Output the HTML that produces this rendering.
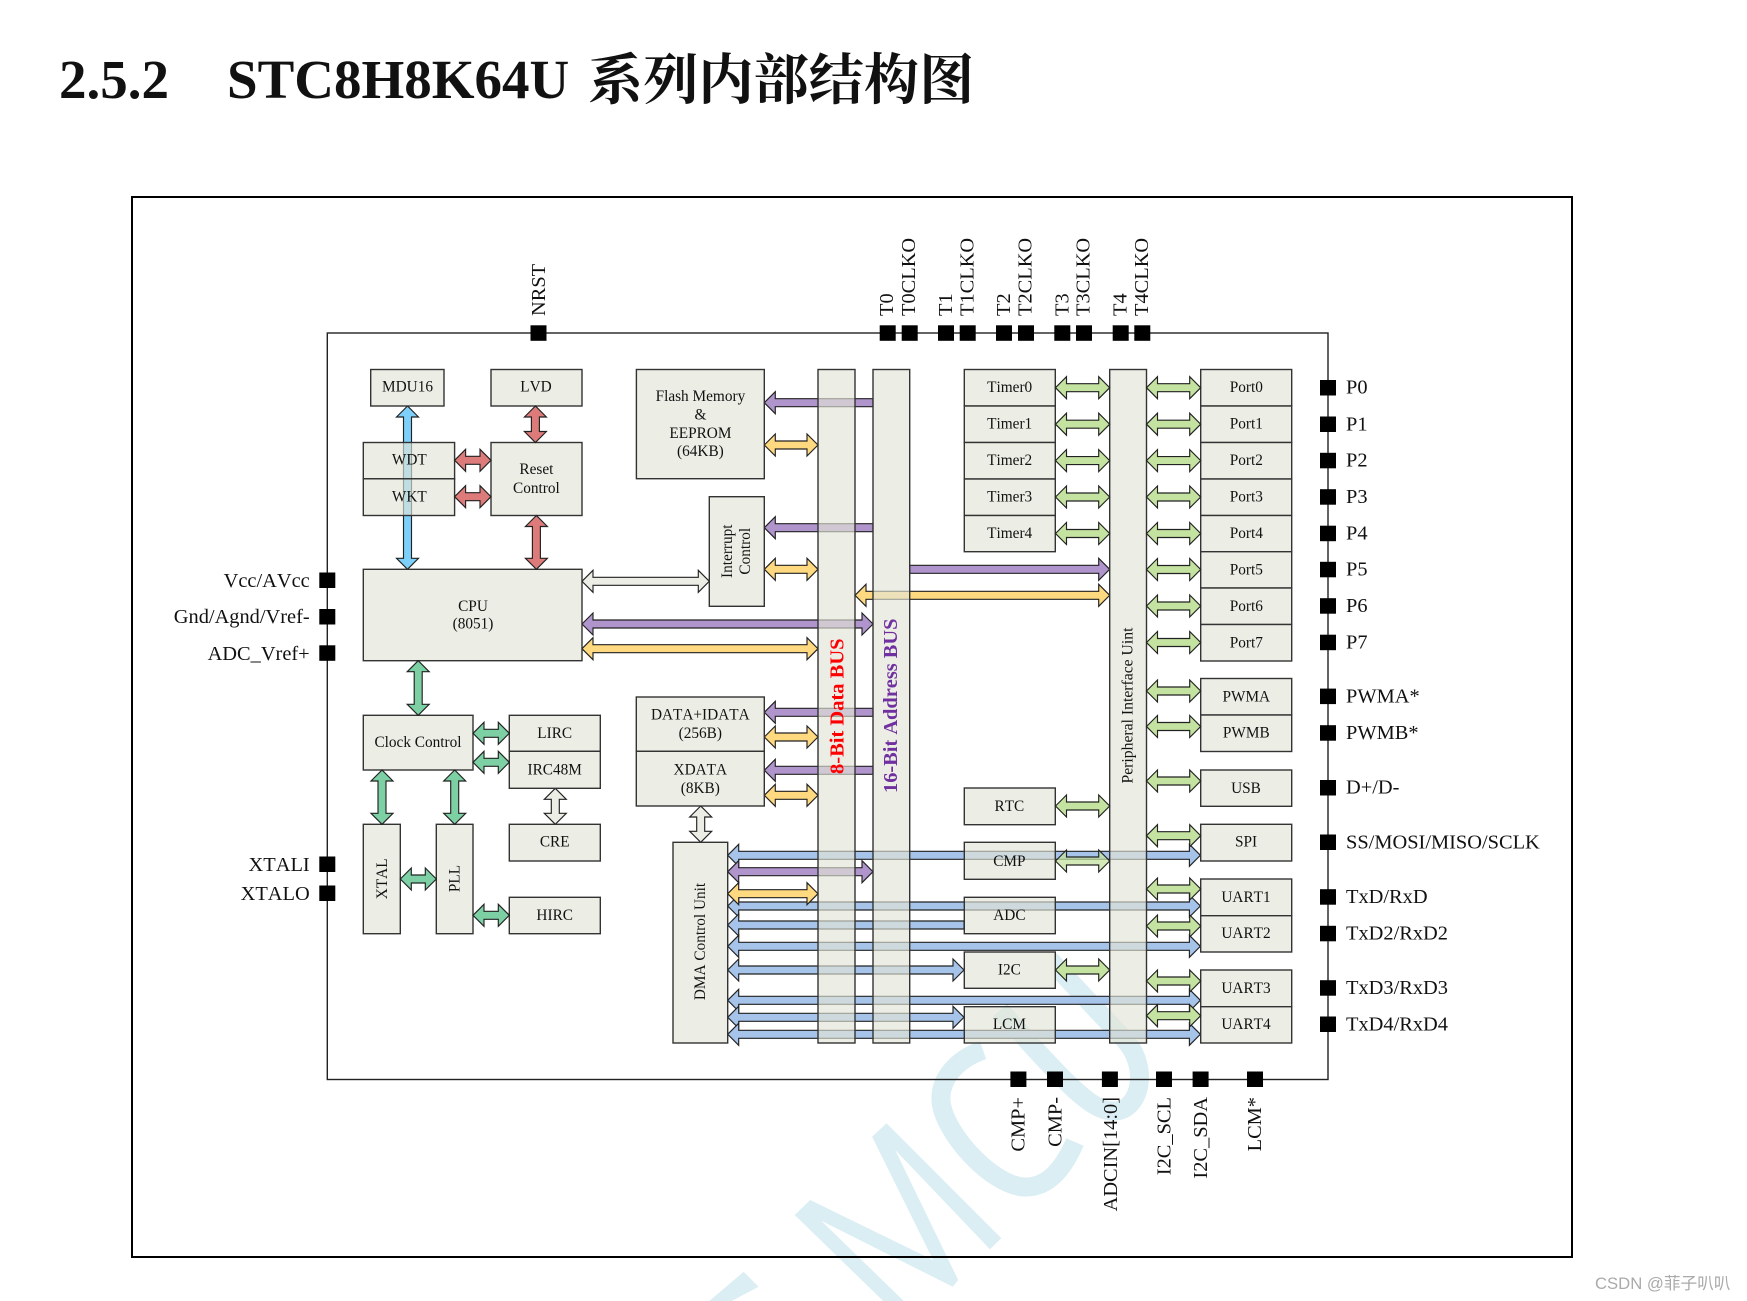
<!DOCTYPE html>
<html>
<head>
<meta charset="utf-8">
<title>STC8H8K64U</title>
<style>
html,body{margin:0;padding:0;background:#fff;width:1747px;height:1301px;overflow:hidden}
svg{display:block}
text{font-family:"Liberation Serif","Noto Serif CJK SC",serif;fill:#111;font-kerning:none}
.l{font-size:15.3px;text-anchor:middle}
.p{font-size:20.4px}
.e{text-anchor:end}
.box rect{fill:#eceee5;stroke:#333;stroke-width:1.4}
.tb rect{fill:#e2e5d7;fill-opacity:.65;stroke:#333;stroke-width:1.4}
.a path{stroke:#222;stroke-width:1.15;stroke-linejoin:miter}
.sq rect{fill:#000}
</style>
</head>
<body>
<svg width="1747" height="1301" viewBox="0 0 1747 1301" xmlns="http://www.w3.org/2000/svg">
<rect width="1747" height="1301" fill="#fff"/>

<!-- watermark -->
<g fill="#daeef4">
<polygon points="810.2,1200 933.1,1260 872.1,1136.7 886.6,1123.3 1001.3,1238.3 989.9,1249.3 895.2,1150 958.2,1280 952.7,1286.7 821.2,1220.7 903.8,1301 883.2,1301 794.7,1215"/>
<polygon points="743.7,1271.7 758.5,1286.7 731.7,1301 709.3,1301"/>
</g>
<g fill="none" stroke="#daeef4" stroke-width="19">
<path d="M983 1050 C955 1060 940 1080 941 1100 C942 1130 990 1185 1024 1187 C1050 1188 1065 1165 1075 1142"/>
<path d="M1050 960 L1125 1040 C1150 1068 1140 1110 1115 1111 C1095 1112 1075 1095 1000 1010"/>
</g>

<!-- title -->
<text x="59" y="98" style="font-size:55px;font-weight:700">2.5.2</text>
<text x="227" y="98" style="font-size:55px;font-weight:700">STC8H8K64U</text>
<text x="588" y="99" style="font-size:55.2px;font-weight:700;font-family:'Noto Serif CJK SC',serif">系列内部结构图</text>

<!-- frames -->
<rect x="132" y="197" width="1440" height="1060" fill="none" stroke="#000" stroke-width="2"/>
<rect x="327.3" y="333" width="1000.7" height="746.5" fill="none" stroke="#222" stroke-width="1.4"/>

<!-- blue arrows under the boxes -->
<g class="a" fill="#a6c3e9">
<path d="M727.7 855.3 l11 -11 v7 H1189.4 v-7 l11 11 l-11 11 v-7 H738.7 v7 z"/>
<path d="M727.7 906 l11 -11 v7 H1189.4 v-7 l11 11 l-11 11 v-7 H738.7 v7 z"/>
<path d="M727.7 925 l11 -11 v7 H964 v8 H738.7 v7 z"/>
<path d="M727.7 946.3 l11 -11 v7 H1189.4 v-7 l11 11 l-11 11 v-7 H738.7 v7 z"/>
<path d="M727.7 970 l11 -11 v7 H953 v-7 l11 11 l-11 11 v-7 H738.7 v7 z"/>
<path d="M727.7 1000.3 l11 -11 v7 H1189.4 v-7 l11 11 l-11 11 v-7 H738.7 v7 z"/>
<path d="M727.7 1017.3 l11 -11 v7 H953 v-7 l11 11 l-11 11 v-7 H738.7 v7 z"/>
<path d="M727.7 1034.3 l11 -11 v7 H1189.4 v-7 l11 11 l-11 11 v-7 H738.7 v7 z"/>
</g>

<!-- purple arrows -->
<g class="a" fill="#b094cc">
<path d="M764.3 402.7 l11 -11 v7 H873 v8 H775.3 v7 z"/>
<path d="M764.3 527.7 l11 -11 v7 H873 v8 H775.3 v7 z"/>
<path d="M764.3 712.3 l11 -11 v7 H873 v8 H775.3 v7 z"/>
<path d="M764.3 770.3 l11 -11 v7 H873 v8 H775.3 v7 z"/>
<path d="M582 624 l11 -11 v7 H862 v-7 l11 11 l-11 11 v-7 H593 v7 z"/>
<path d="M727.7 871.7 l11 -11 v7 H862 v-7 l11 11 l-11 11 v-7 H738.7 v7 z"/>
<path d="M909.7 565.3 H1098.7 v-7 l11 11 l-11 11 v-7 H909.7 z"/>
</g>

<!-- yellow arrows -->
<g class="a" fill="#ffd97f">
<path d="M764.3 445 l11 -11 v7 H807 v-7 l11 11 l-11 11 v-7 H775.3 v7 z"/>
<path d="M764.3 569.3 l11 -11 v7 H807 v-7 l11 11 l-11 11 v-7 H775.3 v7 z"/>
<path d="M764.3 737 l11 -11 v7 H807 v-7 l11 11 l-11 11 v-7 H775.3 v7 z"/>
<path d="M764.3 795.3 l11 -11 v7 H807 v-7 l11 11 l-11 11 v-7 H775.3 v7 z"/>
<path d="M582 648.7 l11 -11 v7 H807 v-7 l11 11 l-11 11 v-7 H593 v7 z"/>
<path d="M727.7 893.7 l11 -11 v7 H807 v-7 l11 11 l-11 11 v-7 H738.7 v7 z"/>
<path d="M855 595.3 l11 -11 v7 H1098.7 v-7 l11 11 l-11 11 v-7 H866 v7 z"/>
</g>

<!-- light arrows -->
<g class="a" fill="#eceee5">
<path d="M582 581.3 l11 -11 v7 H698.3 v-7 l11 11 l-11 11 v-7 H593 v7 z"/>
<path d="M555.3 788.3 l-11 11 h7 v14 h-7 l11 11 l11 -11 h-7 v-14 h7 z"/>
<path d="M700.7 806 l-11 11 h7 v14.3 h-7 l11 11 l11 -11 h-7 v-14.3 h7 z"/>
</g>

<!-- sky blue arrow -->
<g class="a" fill="#7dd0fa">
<path d="M407.5 406 l-11 11 h7 v141.3 h-7 l11 11 l11 -11 h-7 v-141.3 h7 z"/>
</g>

<!-- boxes -->
<g class="box">
<rect x="370.7" y="369.5" width="73.3" height="36.5"/>
<rect x="491" y="369.5" width="91" height="36.5"/>
<rect x="491" y="442.5" width="91" height="73"/>
<rect x="363.3" y="569.3" width="218.7" height="91.4"/>
<rect x="636.4" y="369.5" width="127.9" height="109.2"/>
<rect x="709.3" y="496.7" width="55" height="109.6"/>
<rect x="363.3" y="715.3" width="109.7" height="54.7"/>
<rect x="509.3" y="715.3" width="91" height="36"/>
<rect x="509.3" y="751.3" width="91" height="37"/>
<rect x="509.3" y="824.3" width="91" height="36.7"/>
<rect x="509.3" y="897.3" width="91" height="36.4"/>
<rect x="363.3" y="824.3" width="37" height="109.4"/>
<rect x="436.3" y="824.3" width="36.7" height="109.4"/>
<rect x="636.3" y="697" width="128" height="54.3"/>
<rect x="636.3" y="751.3" width="128" height="54.7"/>
<rect x="673" y="842.3" width="54.7" height="200.7"/>
<rect x="964.3" y="369.5" width="91" height="36.5"/>
<rect x="964.3" y="406" width="91" height="36.5"/>
<rect x="964.3" y="442.5" width="91" height="36.5"/>
<rect x="964.3" y="479" width="91" height="36.5"/>
<rect x="964.3" y="515.5" width="91" height="36.2"/>
<rect x="964.3" y="788" width="91" height="36.7"/>
<rect x="964.3" y="952" width="91" height="36.3"/>
<rect x="1200.7" y="369.5" width="91" height="36.5"/>
<rect x="1200.7" y="406" width="91" height="36.5"/>
<rect x="1200.7" y="442.5" width="91" height="36.5"/>
<rect x="1200.7" y="479" width="91" height="36.5"/>
<rect x="1200.7" y="515.5" width="91" height="36.2"/>
<rect x="1200.7" y="551.7" width="91" height="36.3"/>
<rect x="1200.7" y="588" width="91" height="36.5"/>
<rect x="1200.7" y="624.5" width="91" height="36.5"/>
<rect x="1200.7" y="678.5" width="91" height="36.5"/>
<rect x="1200.7" y="715" width="91" height="36.5"/>
<rect x="1200.7" y="770" width="91" height="36.3"/>
<rect x="1200.7" y="824.3" width="91" height="36.7"/>
<rect x="1200.7" y="879" width="91" height="36.7"/>
<rect x="1200.7" y="915.7" width="91" height="36.3"/>
<rect x="1200.7" y="970" width="91" height="36.7"/>
<rect x="1200.7" y="1006.7" width="91" height="36.3"/>
</g>

<!-- see-through boxes -->
<g class="tb">
<rect x="363.3" y="442.5" width="91.3" height="36.3"/>
<rect x="363.3" y="478.8" width="91.3" height="36.7"/>
<rect x="818" y="369.5" width="37" height="673.5"/>
<rect x="873" y="369.5" width="36.7" height="673.5"/>
<rect x="1109.7" y="369.5" width="36.8" height="673.5"/>
<rect x="964.3" y="842.3" width="91" height="37"/>
<rect x="964.3" y="897.3" width="91" height="36.4"/>
<rect x="964.3" y="1006.7" width="91" height="36.3"/>
</g>

<!-- red arrows -->
<g class="a" fill="#dd7b7b">
<path d="M535.4 406 l-11 11 h7 v14.5 h-7 l11 11 l11 -11 h-7 v-14.5 h7 z"/>
<path d="M536.4 515.5 l-11 11 h7 v31.8 h-7 l11 11 l11 -11 h-7 v-31.8 h7 z"/>
<path d="M454.6 460.3 l11 -11 v7 H480 v-7 l11 11 l-11 11 v-7 H465.6 v7 z"/>
<path d="M454.6 496.7 l11 -11 v7 H480 v-7 l11 11 l-11 11 v-7 H465.6 v7 z"/>
</g>

<!-- mint arrows -->
<g class="a" fill="#7dd0a4">
<path d="M418.2 660.7 l-11 11 h7 v32.6 h-7 l11 11 l11 -11 h-7 v-32.6 h7 z"/>
<path d="M382 770 l-11 11 h7 v32.3 h-7 l11 11 l11 -11 h-7 v-32.3 h7 z"/>
<path d="M454.7 770 l-11 11 h7 v32.3 h-7 l11 11 l11 -11 h-7 v-32.3 h7 z"/>
<path d="M473 733.3 l11 -11 v7 H498.3 v-7 l11 11 l-11 11 v-7 H484 v7 z"/>
<path d="M473 762.3 l11 -11 v7 H498.3 v-7 l11 11 l-11 11 v-7 H484 v7 z"/>
<path d="M400.3 879 l11 -11 v7 H425.3 v-7 l11 11 l-11 11 v-7 H411.3 v7 z"/>
<path d="M473 915.3 l11 -11 v7 H498.3 v-7 l11 11 l-11 11 v-7 H484 v7 z"/>
</g>

<!-- green arrows -->
<g class="a" fill="#c4e3a0">
<path d="M1055.5 387.7 l11 -11 v7 H1098.7 v-7 l11 11 l-11 11 v-7 H1066.5 v7 z"/>
<path d="M1055.5 424.2 l11 -11 v7 H1098.7 v-7 l11 11 l-11 11 v-7 H1066.5 v7 z"/>
<path d="M1055.5 460.6 l11 -11 v7 H1098.7 v-7 l11 11 l-11 11 v-7 H1066.5 v7 z"/>
<path d="M1055.5 497 l11 -11 v7 H1098.7 v-7 l11 11 l-11 11 v-7 H1066.5 v7 z"/>
<path d="M1055.5 533.5 l11 -11 v7 H1098.7 v-7 l11 11 l-11 11 v-7 H1066.5 v7 z"/>
<path d="M1055.5 806 l11 -11 v7 H1098.7 v-7 l11 11 l-11 11 v-7 H1066.5 v7 z"/>
<path d="M1055.5 861 l11 -11 v7 H1098.7 v-7 l11 11 l-11 11 v-7 H1066.5 v7 z" fill-opacity=".75"/>
<path d="M1055.5 970 l11 -11 v7 H1098.7 v-7 l11 11 l-11 11 v-7 H1066.5 v7 z"/>
<path d="M1146.5 387.7 l11 -11 v7 H1189.7 v-7 l11 11 l-11 11 v-7 H1157.5 v7 z"/>
<path d="M1146.5 424.2 l11 -11 v7 H1189.7 v-7 l11 11 l-11 11 v-7 H1157.5 v7 z"/>
<path d="M1146.5 460.6 l11 -11 v7 H1189.7 v-7 l11 11 l-11 11 v-7 H1157.5 v7 z"/>
<path d="M1146.5 497 l11 -11 v7 H1189.7 v-7 l11 11 l-11 11 v-7 H1157.5 v7 z"/>
<path d="M1146.5 533.5 l11 -11 v7 H1189.7 v-7 l11 11 l-11 11 v-7 H1157.5 v7 z"/>
<path d="M1146.5 569.5 l11 -11 v7 H1189.7 v-7 l11 11 l-11 11 v-7 H1157.5 v7 z"/>
<path d="M1146.5 606 l11 -11 v7 H1189.7 v-7 l11 11 l-11 11 v-7 H1157.5 v7 z"/>
<path d="M1146.5 642.5 l11 -11 v7 H1189.7 v-7 l11 11 l-11 11 v-7 H1157.5 v7 z"/>
<path d="M1146.5 691 l11 -11 v7 H1189.7 v-7 l11 11 l-11 11 v-7 H1157.5 v7 z"/>
<path d="M1146.5 726.5 l11 -11 v7 H1189.7 v-7 l11 11 l-11 11 v-7 H1157.5 v7 z"/>
<path d="M1146.5 781 l11 -11 v7 H1189.7 v-7 l11 11 l-11 11 v-7 H1157.5 v7 z"/>
<path d="M1146.5 835.7 l11 -11 v7 H1189.7 v-7 l11 11 l-11 11 v-7 H1157.5 v7 z"/>
<path d="M1146.5 889 l11 -11 v7 H1189.7 v-7 l11 11 l-11 11 v-7 H1157.5 v7 z"/>
<path d="M1146.5 926 l11 -11 v7 H1189.7 v-7 l11 11 l-11 11 v-7 H1157.5 v7 z"/>
<path d="M1146.5 981 l11 -11 v7 H1189.7 v-7 l11 11 l-11 11 v-7 H1157.5 v7 z"/>
<path d="M1146.5 1015.7 l11 -11 v7 H1189.7 v-7 l11 11 l-11 11 v-7 H1157.5 v7 z"/>
</g>

<!-- pins -->
<g class="sq">
<rect x="530.5" y="325.3" width="16" height="15.5"/>
<rect x="879.7" y="325.3" width="16" height="15.5"/>
<rect x="901.7" y="325.3" width="16" height="15.5"/>
<rect x="938" y="325.3" width="16" height="15.5"/>
<rect x="959.7" y="325.3" width="16" height="15.5"/>
<rect x="996" y="325.3" width="16" height="15.5"/>
<rect x="1018" y="325.3" width="16" height="15.5"/>
<rect x="1054.3" y="325.3" width="16" height="15.5"/>
<rect x="1076" y="325.3" width="16" height="15.5"/>
<rect x="1112.7" y="325.3" width="16" height="15.5"/>
<rect x="1134.3" y="325.3" width="16" height="15.5"/>
<rect x="319.3" y="572.5" width="16" height="15.5"/>
<rect x="319.3" y="609" width="16" height="15.5"/>
<rect x="319.3" y="645.3" width="16" height="15.5"/>
<rect x="319.3" y="856.5" width="16" height="15.5"/>
<rect x="319.3" y="885.5" width="16" height="15.5"/>
<rect x="1320" y="380" width="16" height="15.5"/>
<rect x="1320" y="416.5" width="16" height="15.5"/>
<rect x="1320" y="452.8" width="16" height="15.5"/>
<rect x="1320" y="489.2" width="16" height="15.5"/>
<rect x="1320" y="525.7" width="16" height="15.5"/>
<rect x="1320" y="561.8" width="16" height="15.5"/>
<rect x="1320" y="598.2" width="16" height="15.5"/>
<rect x="1320" y="634.7" width="16" height="15.5"/>
<rect x="1320" y="688.6" width="16" height="15.5"/>
<rect x="1320" y="725.2" width="16" height="15.5"/>
<rect x="1320" y="780" width="16" height="15.5"/>
<rect x="1320" y="834.5" width="16" height="15.5"/>
<rect x="1320" y="889.2" width="16" height="15.5"/>
<rect x="1320" y="925.8" width="16" height="15.5"/>
<rect x="1320" y="980.2" width="16" height="15.5"/>
<rect x="1320" y="1016.5" width="16" height="15.5"/>
<rect x="1010.4" y="1071.5" width="16" height="15.5"/>
<rect x="1047" y="1071.5" width="16" height="15.5"/>
<rect x="1101.9" y="1071.5" width="16" height="15.5"/>
<rect x="1156" y="1071.5" width="16" height="15.5"/>
<rect x="1192.6" y="1071.5" width="16" height="15.5"/>
<rect x="1247" y="1071.5" width="16" height="15.5"/>
</g>

<!-- box labels -->
<g transform="translate(0 -0.5)">
<text class="l" x="407.5" y="392">MDU16</text>
<text class="l" x="536" y="392">LVD</text>
<text class="l" x="409.3" y="465">WDT</text>
<text class="l" x="409.3" y="502">WKT</text>
<text class="l" x="536.4" y="474.3">Reset</text>
<text class="l" x="536.4" y="493.3">Control</text>
<text class="l" x="473" y="611.3">CPU</text>
<text class="l" x="473" y="629">(8051)</text>
<text class="l" x="700.4" y="401.7">Flash Memory</text>
<text class="l" x="700.4" y="420">&amp;</text>
<text class="l" x="700.4" y="438.3">EEPROM</text>
<text class="l" x="700.4" y="456.7">(64KB)</text>
<text class="l" x="732" y="551.7" transform="rotate(-90 732 551.7)">Interrupt</text>
<text class="l" x="750" y="551.7" transform="rotate(-90 750 551.7)">Control</text>
<text class="l" x="700.3" y="720">DATA+IDATA</text>
<text class="l" x="700.3" y="738.3">(256B)</text>
<text class="l" x="700.3" y="775">XDATA</text>
<text class="l" x="700.3" y="793.3">(8KB)</text>
<text class="l" x="418" y="747.3">Clock Control</text>
<text class="l" x="554.7" y="738.3">LIRC</text>
<text class="l" x="554.7" y="775">IRC48M</text>
<text class="l" x="554.7" y="847">CRE</text>
<text class="l" x="554.7" y="920.3">HIRC</text>
<text class="l" x="387" y="879.3" transform="rotate(-90 387 879.3)">XTAL</text>
<text class="l" x="459.5" y="879" transform="rotate(-90 459.5 879)">PLL</text>
<text class="l" x="705" y="942" transform="rotate(-90 705 942)">DMA Control Unit</text>
<text class="l" x="1009.7" y="392.6">Timer0</text>
<text class="l" x="1009.7" y="429">Timer1</text>
<text class="l" x="1009.7" y="465.5">Timer2</text>
<text class="l" x="1009.7" y="502">Timer3</text>
<text class="l" x="1009.7" y="538.5">Timer4</text>
<text class="l" x="1009.4" y="811.3">RTC</text>
<text class="l" x="1009.4" y="866.3">CMP</text>
<text class="l" x="1009.4" y="920.3">ADC</text>
<text class="l" x="1009.4" y="975">I2C</text>
<text class="l" x="1009.4" y="1029.3">LCM</text>
<text class="l" x="1246.3" y="392.6">Port0</text>
<text class="l" x="1246.3" y="429">Port1</text>
<text class="l" x="1246.3" y="465.5">Port2</text>
<text class="l" x="1246.3" y="502">Port3</text>
<text class="l" x="1246.3" y="538.5">Port4</text>
<text class="l" x="1246.3" y="575">Port5</text>
<text class="l" x="1246.3" y="611.4">Port6</text>
<text class="l" x="1246.3" y="648">Port7</text>
<text class="l" x="1246.3" y="702">PWMA</text>
<text class="l" x="1246.3" y="738">PWMB</text>
<text class="l" x="1246" y="793.3">USB</text>
<text class="l" x="1246" y="847">SPI</text>
<text class="l" x="1246" y="902.3">UART1</text>
<text class="l" x="1246" y="938.3">UART2</text>
<text class="l" x="1246" y="993.3">UART3</text>
<text class="l" x="1246" y="1029.3">UART4</text>
</g>

<!-- bus labels -->
<text x="843.6" y="774" transform="rotate(-90 843.6 774)" style="font-size:20.5px;font-weight:700;fill:#ff0000">8-Bit Data BUS</text>
<text x="897" y="793" transform="rotate(-90 897 793)" style="font-size:20.4px;font-weight:700;fill:#7030a0">16-Bit Address BUS</text>
<text x="1132.5" y="783.5" transform="rotate(-90 1132.5 783.5)" style="font-size:15.7px">Peripheral Interface Uint</text>

<!-- top pin labels -->
<text class="p" x="545" y="316" transform="rotate(-90 545 316)">NRST</text>
<text class="p" x="893" y="316" transform="rotate(-90 893 316)">T0</text>
<text class="p" x="915" y="316" transform="rotate(-90 915 316)">T0CLKO</text>
<text class="p" x="952" y="316" transform="rotate(-90 952 316)">T1</text>
<text class="p" x="973.3" y="316" transform="rotate(-90 973.3 316)">T1CLKO</text>
<text class="p" x="1010" y="316" transform="rotate(-90 1010 316)">T2</text>
<text class="p" x="1031.7" y="316" transform="rotate(-90 1031.7 316)">T2CLKO</text>
<text class="p" x="1068.3" y="316" transform="rotate(-90 1068.3 316)">T3</text>
<text class="p" x="1089.7" y="316" transform="rotate(-90 1089.7 316)">T3CLKO</text>
<text class="p" x="1126.3" y="316" transform="rotate(-90 1126.3 316)">T4</text>
<text class="p" x="1148" y="316" transform="rotate(-90 1148 316)">T4CLKO</text>

<!-- left pin labels -->
<text class="p e" x="309.7" y="587">Vcc/AVcc</text>
<text class="p e" x="309.7" y="623">Gnd/Agnd/Vref-</text>
<text class="p e" x="309.7" y="660">ADC_Vref+</text>
<text class="p e" x="309.7" y="871">XTALI</text>
<text class="p e" x="309.7" y="900">XTALO</text>

<!-- right pin labels -->
<g transform="translate(0 -0.4)">
<text class="p" x="1346" y="394">P0</text>
<text class="p" x="1346" y="430.7">P1</text>
<text class="p" x="1346" y="467">P2</text>
<text class="p" x="1346" y="503.5">P3</text>
<text class="p" x="1346" y="540">P4</text>
<text class="p" x="1346" y="576">P5</text>
<text class="p" x="1346" y="612.5">P6</text>
<text class="p" x="1346" y="649">P7</text>
<text class="p" x="1346" y="703">PWMA*</text>
<text class="p" x="1346" y="739.5">PWMB*</text>
<text class="p" x="1346" y="794">D+/D-</text>
<text class="p" x="1346" y="849">SS/MOSI/MISO/SCLK</text>
<text class="p" x="1346" y="903.5">TxD/RxD</text>
<text class="p" x="1346" y="940">TxD2/RxD2</text>
<text class="p" x="1346" y="994.5">TxD3/RxD3</text>
<text class="p" x="1346" y="1031">TxD4/RxD4</text>
</g>

<!-- bottom pin labels -->
<text class="p e" x="1024.5" y="1097" transform="rotate(-90 1024.5 1097)">CMP+</text>
<text class="p e" x="1061.3" y="1097" transform="rotate(-90 1061.3 1097)">CMP-</text>
<text class="p e" x="1117" y="1097" transform="rotate(-90 1117 1097)">ADCIN[14:0]</text>
<text class="p e" x="1170.3" y="1097" transform="rotate(-90 1170.3 1097)">I2C_SCL</text>
<text class="p e" x="1207" y="1097" transform="rotate(-90 1207 1097)">I2C_SDA</text>
<text class="p e" x="1261" y="1097" transform="rotate(-90 1261 1097)">LCM*</text>

<!-- credit -->
<text x="1595" y="1289" style="font-family:'Liberation Sans','Noto Sans CJK SC',sans-serif;font-size:16.7px;fill:#aaaaaa">CSDN @菲子叭叭</text>
</svg>
</body>
</html>
